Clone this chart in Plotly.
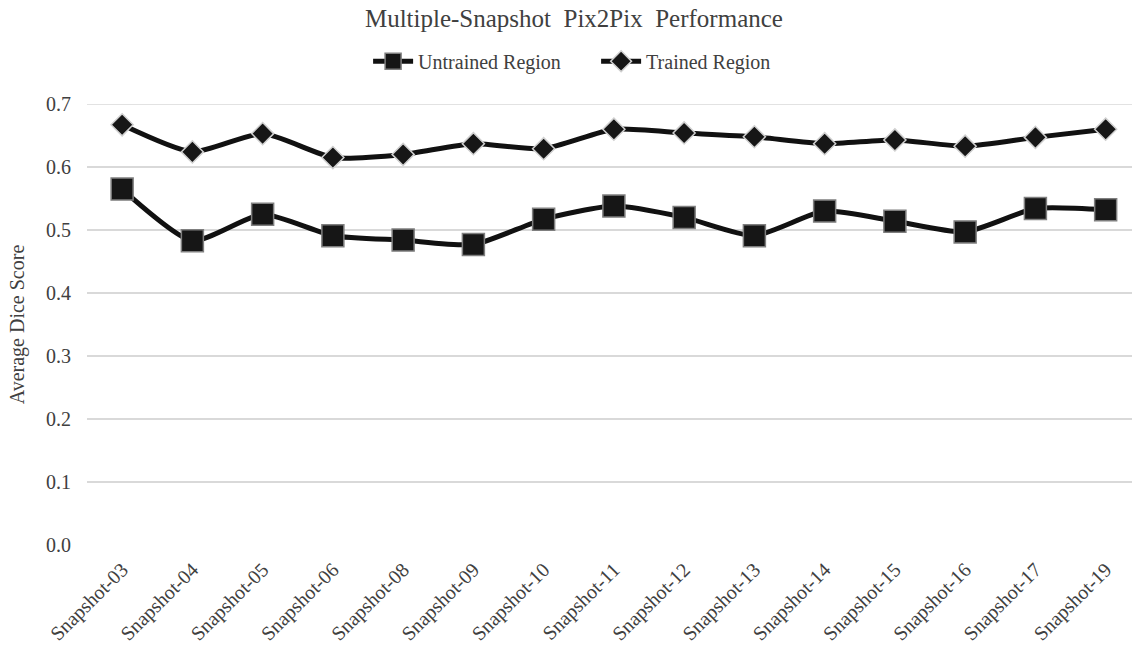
import plotly.graph_objects as go

categories = ["Snapshot-03", "Snapshot-04", "Snapshot-05", "Snapshot-06", "Snapshot-08",
              "Snapshot-09", "Snapshot-10", "Snapshot-11", "Snapshot-12", "Snapshot-13",
              "Snapshot-14", "Snapshot-15", "Snapshot-16", "Snapshot-17", "Snapshot-19"]
untrained = [0.565, 0.483, 0.525, 0.491, 0.484, 0.477, 0.517, 0.538, 0.520, 0.491,
             0.530, 0.514, 0.497, 0.534, 0.532]
trained = [0.667, 0.624, 0.653, 0.615, 0.620, 0.637, 0.629, 0.660, 0.654, 0.648,
           0.637, 0.643, 0.633, 0.647, 0.660]
y_ticks = [0.0, 0.1, 0.2, 0.3, 0.4, 0.5, 0.6, 0.7]

FONT = "Liberation Serif"
TXT = "#404040"

fig = go.Figure()
fig.add_trace(go.Scatter(
    x=list(range(len(categories))), y=untrained, name="Untrained Region",
    mode="lines+markers",
    line=dict(color="#111111", width=5, shape="spline", smoothing=0.6),
    marker=dict(symbol="square", size=22, color="#161616",
                line=dict(color="#7f7f7f", width=1.5)),
))
fig.add_trace(go.Scatter(
    x=list(range(len(categories))), y=trained, name="Trained Region",
    mode="lines+markers",
    line=dict(color="#111111", width=5, shape="spline", smoothing=0.6),
    marker=dict(symbol="diamond", size=17, color="#161616",
                line=dict(color="#d0d0d0", width=1.5)),
))

fig.update_layout(
    width=1132, height=645,
    margin=dict(l=87, r=0, t=104, b=100, autoexpand=False),
    paper_bgcolor="white", plot_bgcolor="white",
    font=dict(family=FONT, color=TXT, size=20),
    title=dict(text="Multiple-Snapshot  Pix2Pix  Performance", x=0.507, xanchor="center",
               y=0.972, yanchor="middle", font=dict(size=25, color=TXT, family=FONT)),
    legend=dict(orientation="h", x=0.269, xanchor="left", y=1.097, yanchor="middle",
                font=dict(size=20, color=TXT, family=FONT), itemwidth=40,
                entrywidth=173, entrywidthmode="pixels",
                bgcolor="rgba(0,0,0,0)"),
    showlegend=True,
)
fig.update_xaxes(
    tickmode="array", tickvals=list(range(len(categories))), ticktext=categories,
    range=[-0.5, 14.375], tickangle=-45, showgrid=False, zeroline=False,
    showline=False, ticks="", ticklabelstandoff=8,
    tickfont=dict(size=20, color=TXT, family=FONT),
    automargin=False,
)
fig.update_yaxes(
    range=[0, 0.7], tickvals=y_ticks, tickformat=".1f",
    showgrid=True, gridcolor="#d9d9d9", gridwidth=1.5, zeroline=False,
    showline=False, ticks="", ticklabelstandoff=15, automargin=False,
    tickfont=dict(size=20, color=TXT, family=FONT),
    title=dict(text="Average Dice Score", font=dict(size=20, color=TXT, family=FONT), standoff=16),
)
fig.add_shape(type="line", xref="paper", yref="y", x0=0, x1=1, y0=0.7, y1=0.7,
              line=dict(color="#d9d9d9", width=1.5), layer="below")

fig.write_html("out.html", config={"displayModeBar": False},
               post_script="document.body.style.margin='0';document.body.style.overflow='hidden';")
